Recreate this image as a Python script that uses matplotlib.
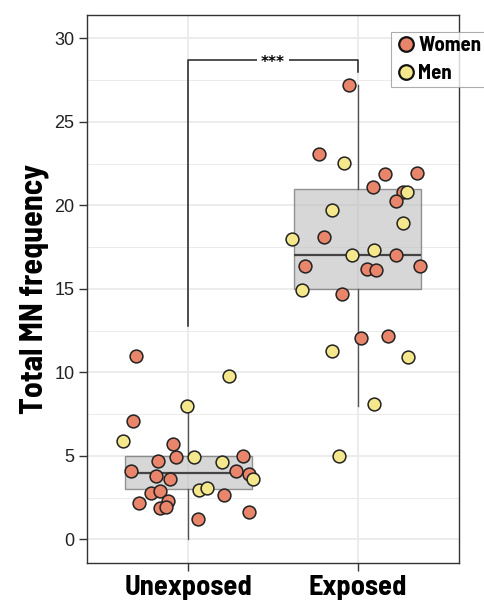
import numpy as np
import matplotlib
matplotlib.use("Agg")
import matplotlib.pyplot as plt
from matplotlib.lines import Line2D

# groups on the x axis
groups = ["Unexposed", "Exposed"]

# MN counts per subject, split by sex, with the horizontal jitter used for each dot
unexp_women = [11.0, 7.1, 5.7, 4.7, 4.9, 5.0, 4.1, 3.8, 3.6, 4.1, 3.9,
               2.8, 2.9, 2.65, 2.15, 2.3, 1.9, 1.95, 1.2, 1.65]
unexp_women_jit = [-0.31, -0.33, -0.09, -0.18, -0.075, 0.32, -0.34, -0.19, -0.11, 0.28, 0.36,
                   -0.22, -0.17, 0.21, -0.29, -0.12, -0.17, -0.13, 0.055, 0.36]
unexp_men = [9.8, 8.0, 5.9, 4.9, 4.65, 3.6, 2.95, 3.1]
unexp_men_jit = [0.24, -0.01, -0.39, 0.03, 0.20, 0.38, 0.06, 0.11]

exp_women = [27.2, 23.1, 21.9, 21.95, 21.1, 20.8, 20.25, 18.1, 17.05, 16.35,
             16.2, 16.1, 16.35, 14.7, 12.05, 12.2]
exp_women_jit = [-0.05, -0.23, 0.16, 0.35, 0.09, 0.27, 0.23, -0.20, 0.23, -0.31,
                 0.055, 0.11, 0.37, -0.09, 0.02, 0.18]
exp_men = [22.55, 20.8, 19.7, 18.95, 18.0, 17.05, 17.3, 14.95, 11.25, 10.9, 8.1, 5.0]
exp_men_jit = [-0.08, 0.29, -0.15, 0.27, -0.39, -0.03, 0.10, -0.33, -0.15, 0.30, 0.10, -0.11]

# box summaries: lower whisker, Q1, median, Q3, upper whisker
box_low = [0.0, 8.0]
box_q1 = [3.0, 15.0]
box_med = [4.0, 17.0]
box_q3 = [5.0, 21.0]
box_high = [8.0, 27.2]

# significance bracket: bar height and the two tip ends
sig_label = "***"
sig_bar = 28.7
sig_tips = [12.75, 28.0]

women_col = "#E8856A"
men_col = "#F5E78C"
narrow = "Barlow Semi Condensed"

fig = plt.figure(figsize=(4.84, 6.01), dpi=100)
ax = fig.add_axes([87 / 484, 1 - 563 / 601, 372 / 484, 548 / 601])

xpos = np.arange(1, len(groups) + 1)

stats = []
for i, g in enumerate(groups):
    stats.append(dict(label=g, whislo=box_low[i], q1=box_q1[i], med=box_med[i],
                      q3=box_q3[i], whishi=box_high[i], fliers=[]))
ax.bxp(stats, positions=xpos, widths=0.75, showcaps=False, patch_artist=True,
       boxprops=dict(facecolor="#bdbdbd", alpha=0.6, edgecolor="#555555", linewidth=1.0),
       medianprops=dict(color="#444444", linewidth=1.6),
       whiskerprops=dict(color="#555555", linewidth=1.0), zorder=2)

pts = [(unexp_women, unexp_women_jit, 0, women_col),
       (unexp_men, unexp_men_jit, 0, men_col),
       (exp_women, exp_women_jit, 1, women_col),
       (exp_men, exp_men_jit, 1, men_col)]
for vals, jit, gi, col in pts:
    ax.scatter(xpos[gi] + np.array(jit), vals, s=85, color=col,
               edgecolor="#222222", linewidth=1.1, zorder=3)

# bracket with the stars
ax.plot([xpos[0], xpos[0], xpos[1], xpos[1]],
        [sig_tips[0], sig_bar, sig_bar, sig_tips[1]],
        color="#222222", linewidth=1.1, zorder=4)
ax.text(xpos.mean(), sig_bar - 0.15, sig_label, ha="center", va="center",
        fontsize=11, fontweight="bold", family="DejaVu Sans", zorder=5,
        bbox=dict(facecolor="white", edgecolor="none", pad=2.5))

ax.set_xlim(0.4, 2.6)
ax.set_ylim(-1.42, 31.4)
ax.set_yticks(np.arange(0, 31, 5))
ax.set_yticks(np.arange(2.5, 31, 5), minor=True)
ax.set_xticks(xpos)
ax.set_xticklabels(groups, fontsize=20.5, family=narrow, fontweight="bold")
for lab in ax.get_yticklabels():
    lab.set_family("Liberation Sans")
ax.tick_params(axis="y", labelsize=13, colors="#333333", labelcolor="#222222", length=5.5, width=1)
ax.tick_params(axis="x", colors="#333333", labelcolor="black", length=5.5, width=1, pad=3)
ax.tick_params(axis="y", which="minor", length=0)

ax.grid(True, which="major", color="#ebebeb", linewidth=1.3, zorder=0)
ax.grid(True, which="minor", axis="y", color="#ebebeb", linewidth=0.7, zorder=0)
ax.set_axisbelow(True)
for sp in ax.spines.values():
    sp.set_color("#333333")
    sp.set_linewidth(1.0)

ax.set_ylabel("Total MN frequency", fontsize=23, family=narrow, fontweight="bold", labelpad=4)

handles = [Line2D([], [], marker="o", linestyle="none", markersize=10.5,
                  markerfacecolor=c, markeredgecolor="#111111", markeredgewidth=1.6)
           for c in (women_col, men_col)]
leg = ax.legend(handles, ["Women", "Men"], loc="upper left",
                bbox_to_anchor=(391 / 484, 1 - 32 / 601), bbox_transform=fig.transFigure,
                prop=dict(family=narrow, weight="bold", size=15),
                frameon=True, fancybox=False, handletextpad=0.1, handlelength=1.0,
                borderpad=0.2, labelspacing=0.42, borderaxespad=0)
leg.get_frame().set_edgecolor("#999999")
leg.get_frame().set_linewidth(0.8)

fig.savefig("out.png", dpi=100)
